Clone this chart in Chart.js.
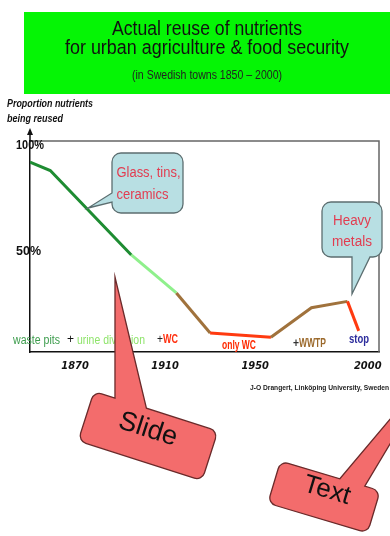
<!DOCTYPE html>
<html>
<head>
<meta charset="utf-8">
<script src="https://cdn.jsdelivr.net/npm/chart.js"></script>
<style>
  html, body { margin: 0; padding: 0; background: #fff; }
  canvas { display: block; }
</style>
</head>
<body>
<canvas id="reuse" width="390" height="536"></canvas>
<script>
// values
const years = [1850, 1859, 1895, 1915, 1930, 1957, 1975, 1991, 1996];
const reusePct = [90, 86, 46, 28, 9, 7, 21, 24, 10];
// one colour per segment (between point i and i+1)
const segColors = ['#1e8c32', '#1e8c32', '#8ff08c', '#a0723c', '#ff3a10', '#a0723c', '#a0723c', '#ff3a10'];
const xTicks = [1870, 1910, 1950, 2000];
const yTicks = [100, 50];

const SANS = "'Liberation Sans', Arial, sans-serif";
const NARROW = "'Liberation Sans Narrow', 'DejaVu Sans Condensed', " + SANS;

// draw text, squeezed horizontally to a given width if asked
function fitText(ctx, str, x, y, width, font, color, align) {
  ctx.save();
  ctx.font = font;
  ctx.fillStyle = color;
  ctx.textBaseline = 'middle';
  ctx.textAlign = 'left';
  const w = ctx.measureText(str).width;
  const s = width ? width / w : 1;
  let x0 = x;
  if (align === 'center') x0 = x - w * s / 2;
  if (align === 'right') x0 = x - w * s;
  ctx.translate(x0, y);
  ctx.scale(s, 1);
  ctx.fillText(str, 0, 0);
  ctx.restore();
}

// rounded box with a pointer, in the box's own (rotated) frame
function callout(ctx, o) {
  const { cx, cy, w, h, angle, r, side, a, b, tip } = o;
  ctx.save();
  ctx.translate(cx, cy);
  ctx.rotate(angle);
  const cos = Math.cos(-angle), sin = Math.sin(-angle);
  const dx = tip[0] - cx, dy = tip[1] - cy;
  const tx = dx * cos - dy * sin, ty = dx * sin + dy * cos;
  const L = -w / 2, R = w / 2, T = -h / 2, B = h / 2;
  ctx.beginPath();
  ctx.moveTo(L + r, T);
  if (side === 'top') { ctx.lineTo(a, T); ctx.lineTo(tx, ty); ctx.lineTo(b, T); }
  ctx.lineTo(R - r, T);
  ctx.arcTo(R, T, R, T + r, r);
  ctx.lineTo(R, B - r);
  ctx.arcTo(R, B, R - r, B, r);
  if (side === 'bottom') { ctx.lineTo(b, B); ctx.lineTo(tx, ty); ctx.lineTo(a, B); }
  ctx.lineTo(L + r, B);
  ctx.arcTo(L, B, L, B - r, r);
  if (side === 'left') { ctx.lineTo(L, b); ctx.lineTo(tx, ty); ctx.lineTo(L, a); }
  ctx.lineTo(L, T + r);
  ctx.arcTo(L, T, L + r, T, r);
  ctx.closePath();
  ctx.fillStyle = o.fill;
  ctx.fill();
  ctx.lineWidth = 1.3;
  ctx.strokeStyle = o.stroke;
  ctx.stroke();
  (o.lines || []).forEach(l => fitText(ctx, l.t, l.x, l.y, l.w, o.font, o.color, l.align || 'center'));
  ctx.restore();
}

const slideDecor = {
  id: 'slideDecor',
  beforeDraw(chart) {
    const ctx = chart.ctx;
    // green title banner
    ctx.save();
    ctx.fillStyle = '#05f505';
    ctx.fillRect(24, 12, 366, 82);
    ctx.restore();
    fitText(ctx, 'Actual reuse of nutrients', 207, 29, 190, '20px ' + SANS, '#111', 'center');
    fitText(ctx, 'for urban agriculture & food security', 207, 48, 284, '20px ' + SANS, '#111', 'center');
    fitText(ctx, '(in Swedish towns 1850 \u2013 2000)', 207, 76, 150, '12px ' + SANS, '#222', 'center');
    // y axis title
    fitText(ctx, 'Proportion nutrients', 7, 104, 86, 'italic bold 10px ' + SANS, '#111', 'left');
    fitText(ctx, 'being reused', 7, 119, 56, 'italic bold 10px ' + SANS, '#111', 'left');
  },
  afterDraw(chart) {
    const ctx = chart.ctx;
    const { left, right, top, bottom } = chart.chartArea;
    const ys = chart.scales.y;
    // grey frame top/right
    ctx.save();
    ctx.strokeStyle = '#666';
    ctx.lineWidth = 1.5;
    ctx.beginPath();
    ctx.moveTo(left, top); ctx.lineTo(right, top); ctx.lineTo(right, bottom);
    ctx.stroke();
    // arrow on y axis
    ctx.strokeStyle = '#111';
    ctx.beginPath(); ctx.moveTo(left, top); ctx.lineTo(left, top - 10); ctx.stroke();
    ctx.fillStyle = '#111';
    ctx.beginPath(); ctx.moveTo(left, top - 13); ctx.lineTo(left - 3, top - 6); ctx.lineTo(left + 3, top - 6); ctx.closePath(); ctx.fill();
    ctx.restore();
    // y tick labels, sitting just under their value
    yTicks.forEach(v => {
      const y = ys.getPixelForValue(v) + 5;
      fitText(ctx, v + '%', 16, y, v === 100 ? 28 : 25, 'bold 12px ' + SANS, '#111', 'left');
    });
    // stage labels along the bottom of the plot
    fitText(ctx, 'waste pits', 13, 341, 47, '12px ' + SANS, '#3c9c4c', 'left');
    fitText(ctx, '+', 67, 340, 7, '12px ' + SANS, '#111', 'left');
    fitText(ctx, 'urine diversion', 77, 341, 68, '12px ' + SANS, '#8ee46a', 'left');
    fitText(ctx, '+', 157, 340, 6, '12px ' + SANS, '#222', 'left');
    fitText(ctx, 'WC', 163, 340, 15, 'bold 12px ' + SANS, '#ff3010', 'left');
    fitText(ctx, 'only WC', 222, 346, 34, 'bold 12px ' + SANS, '#ff2a00', 'left');
    fitText(ctx, '+', 293, 344, 6, 'bold 12px ' + SANS, '#333', 'left');
    fitText(ctx, 'WWTP', 299, 344, 27, 'bold 12px ' + SANS, '#9c6a2c', 'left');
    fitText(ctx, 'stop', 349, 340, 20, 'bold 12px ' + SANS, '#2c2c9c', 'left');
    // credit
    fitText(ctx, 'J-O Drangert, Link\u00f6ping University, Sweden', 250, 388, 139, 'bold 8px ' + SANS, '#222', 'left');

    // callouts
    const blue = { fill: '#b8dfe3', stroke: '#5c6e70', color: '#e23c50', font: '14px ' + SANS };
    callout(ctx, Object.assign({}, blue, {
      cx: 147.5, cy: 183, w: 71, h: 60, angle: 0, r: 9, side: 'left', a: 10, b: 19, tip: [88, 208],
      lines: [{ t: 'Glass, tins,', x: -31, y: -10, w: 64, align: 'left' }, { t: 'ceramics', x: -31, y: 12, w: 52, align: 'left' }]
    }));
    callout(ctx, Object.assign({}, blue, {
      cx: 352, cy: 229.5, w: 60, h: 55, angle: 0, r: 9, side: 'bottom', a: 0, b: 18, tip: [352, 294],
      lines: [{ t: 'Heavy', x: 0, y: -8, w: 38 }, { t: 'metals', x: 0, y: 13, w: 40 }]
    }));
    const red = { fill: '#f36c6c', stroke: '#6a2a2a', color: '#111', font: '27px ' + SANS };
    callout(ctx, Object.assign({}, red, {
      cx: 148, cy: 436, w: 130, h: 52, angle: 0.31, r: 8, side: 'top', a: -43, b: -10, tip: [115, 277],
      lines: [{ t: 'Slide', x: -2, y: -6 }]
    }));
    callout(ctx, Object.assign({}, red, {
      cx: 324, cy: 497, w: 104, h: 44, angle: 0.29, r: 8, side: 'top', a: 10, b: 36, tip: [440, 360],
      font: '26px ' + SANS,
      lines: [{ t: 'Text', x: 1, y: -7 }]
    }));
  }
};

new Chart(document.getElementById('reuse'), {
  type: 'line',
  data: {
    datasets: [{
      data: years.map((y, i) => ({ x: y, y: reusePct[i] })),
      borderWidth: 3,
      borderColor: segColors[0],
      pointRadius: 0,
      tension: 0,
      segment: { borderColor: c => segColors[c.p0DataIndex] }
    }]
  },
  options: {
    responsive: false,
    animation: false,
    layout: { padding: { left: 30, top: 141, right: 11, bottom: 154 } },
    plugins: { legend: { display: false }, tooltip: { enabled: false } },
    scales: {
      x: {
        type: 'linear',
        min: 1850,
        max: 2005,
        afterBuildTicks: s => { s.ticks = xTicks.map(v => ({ value: v })); },
        afterFit: s => { s.height = 30; },
        grid: { display: false, drawTicks: false },
        border: { display: true, color: '#111', width: 1.5 },
        ticks: {
          padding: 8, color: '#111', maxRotation: 0, autoSkip: false,
          callback: v => String(v),
          font: { family: NARROW, size: 11, weight: 'bold', style: 'italic' }
        }
      },
      y: {
        min: 0,
        max: 100,
        afterFit: s => { s.width = 0; },
        grid: { display: false, drawTicks: false },
        border: { display: true, color: '#111', width: 1.5 },
        ticks: { display: false }
      }
    }
  },
  plugins: [slideDecor]
});
</script>
</body>
</html>
